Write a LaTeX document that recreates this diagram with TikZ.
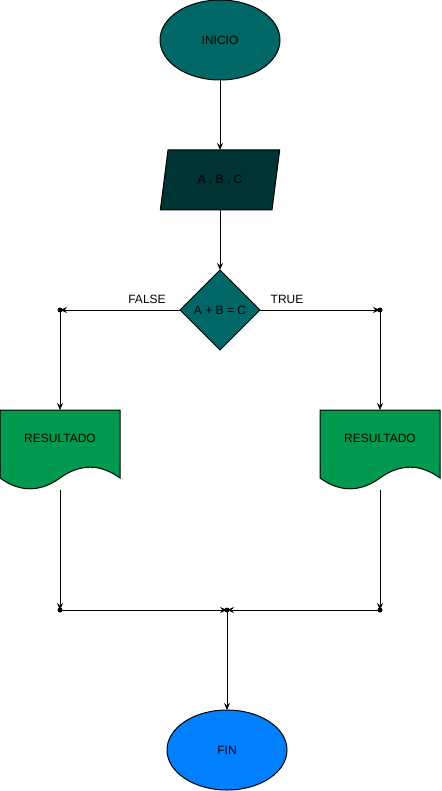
\documentclass[tikz,border=0pt]{standalone}
\usepackage{fontspec}
\setmainfont{Liberation Sans}
\usetikzlibrary{shapes.geometric}
\usetikzlibrary{arrows.meta}
\definecolor{startColor}{HTML}{006666}
\definecolor{inputColor}{HTML}{003333}
\definecolor{docColor}{HTML}{00994D}
\definecolor{endColor}{HTML}{007FFF}

\begin{document}
\begin{tikzpicture}[x=1pt,y=-1pt]

          \tikzstyle{every node} = [font=\fontsize{12}{14}\selectfont];
          \tikzstyle{termNode} = [ellipse, draw, line width=1pt, minimum width=120pt, minimum height=80pt, inner sep=0pt, outer sep=0pt];
          \tikzstyle{inputNode} = [trapezium, trapezium stretches=true, trapezium left angle=71.57, trapezium right angle=108.43, draw, line width=1pt, fill=inputColor, minimum width=120pt, minimum height=60pt, inner sep=0pt, outer sep=0pt];
          \tikzstyle{decisionNode} = [diamond, draw, line width=1pt, fill=startColor, minimum width=80pt, minimum height=80pt, inner sep=0pt, outer sep=0pt];
          \tikzstyle{docShape} = [draw, line width=1pt, fill=docColor];

          \tikzstyle{normalEdge} = [line width=1pt, -{Stealth[length=7pt,width=6pt,inset=2.5pt]}];
          \tikzstyle{junction} = [black];

          \useasboundingbox (0,0) rectangle (441,791);

          % shapes
          \path[docShape] (0,410) -- (120,410) -- (120,478)
            .. controls (100,463.6) and (80,463.6) .. (60,478)
            .. controls (40,492.4) and (20,492.4) .. (0,478) -- cycle;
          \path[docShape] (320,410) -- (440,410) -- (440,478)
            .. controls (420,463.6) and (400,463.6) .. (380,478)
            .. controls (360,492.4) and (340,492.4) .. (320,478) -- cycle;

          \node[termNode, fill=startColor] (inicio) at (220,40) {INICIO};
          \node[inputNode] (datos) at (220,180) {A , B , C};
          \node[decisionNode] (cond) at (220,310) {A + B = C};
          \node (resL) at (60,438) {RESULTADO};
          \node (resR) at (380,438) {RESULTADO};
          \node[termNode, fill=endColor] (fin) at (227,750) {FIN};

          \node (false) at (147,299) {FALSE};
          \node (true) at (287,299) {TRUE};

          \coordinate (splitL) at (60,310);
          \coordinate (splitR) at (380,310);
          \coordinate (resLin) at (60,410);
          \coordinate (resRin) at (380,410);
          \coordinate (resLout) at (60,490);
          \coordinate (resRout) at (380,490);
          \coordinate (joinL) at (60,610);
          \coordinate (joinR) at (380,610);
          \coordinate (join) at (227,610);

          % edges
          \draw[normalEdge] (inicio) -- (datos);
          \draw[normalEdge] (datos) -- (cond);
          \draw[normalEdge] (cond) -- (splitL);
          \draw[normalEdge] (cond) -- (splitR);
          \draw[normalEdge] (splitL) -- (resLin);
          \draw[normalEdge] (splitR) -- (resRin);
          \draw[normalEdge] (resLout) -- (joinL);
          \draw[normalEdge] (resRout) -- (joinR);
          \draw[normalEdge] (joinL) -- (join);
          \draw[normalEdge] (joinR) -- (join);
          \draw[normalEdge] (join) -- (fin);

          \fill[junction] (splitL) circle (2.5pt);
          \fill[junction] (splitR) circle (2.5pt);
          \fill[junction] (joinL) circle (2.5pt);
          \fill[junction] (joinR) circle (2.5pt);
          \fill[junction] (join) circle (2.5pt);
        \end{tikzpicture}
\end{document}
